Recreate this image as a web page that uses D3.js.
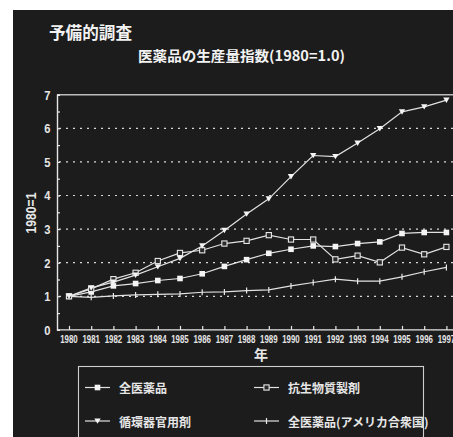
<!DOCTYPE html>
<html>
<head>
<meta charset="utf-8">
<script src="https://cdn.jsdelivr.net/npm/d3@7/dist/d3.min.js"></script>
<style>
  html, body { margin: 0; padding: 0; background: #ffffff; }
  svg { display: block; }
</style>
</head>
<body>
<script>
// Production index of pharmaceuticals, 1980 = 1.0
const years = [1980, 1981, 1982, 1983, 1984, 1985, 1986, 1987, 1988, 1989,
               1990, 1991, 1992, 1993, 1994, 1995, 1996, 1997];
const allDrugs      = [1.00, 1.13, 1.31, 1.38, 1.47, 1.53, 1.67, 1.89, 2.09, 2.28, 2.40, 2.50, 2.48, 2.57, 2.62, 2.87, 2.90, 2.90];
const antibiotics   = [1.00, 1.22, 1.51, 1.70, 2.05, 2.29, 2.37, 2.57, 2.65, 2.82, 2.69, 2.69, 2.10, 2.21, 2.01, 2.45, 2.25, 2.47];
const circulatory   = [1.00, 1.25, 1.42, 1.63, 1.88, 2.13, 2.50, 2.96, 3.45, 3.90, 4.56, 5.19, 5.16, 5.56, 5.99, 6.49, 6.64, 6.84];
const allDrugsUSA   = [1.00, 0.97, 1.01, 1.04, 1.06, 1.07, 1.12, 1.13, 1.17, 1.19, 1.31, 1.41, 1.51, 1.45, 1.45, 1.58, 1.73, 1.86];
const yTicks = [0, 1, 2, 3, 4, 5, 6, 7];
const seriesNames = ["全医薬品", "抗生物質製剤", "循環器官用剤", "全医薬品(アメリカ合衆国)"];

const W = 453, H = 437;
const ink = "#e6e6e6";
const bg = "#1c1c1c";
const cjk = "'Noto Sans CJK JP', 'Noto Sans CJK SC', sans-serif";
const num = "'Liberation Sans', Arial, sans-serif";

const svg = d3.select("body").append("svg").attr("width", W).attr("height", H);
svg.append("rect").attr("x", 0).attr("y", 0).attr("width", W).attr("height", H).attr("fill", "#ffffff");
svg.append("rect").attr("x", 13).attr("y", 10).attr("width", W - 13).attr("height", H - 10).attr("fill", bg);

const x = d3.scaleLinear().domain([1980, 1997]).range([69, 446.4]);
const y = d3.scaleLinear().domain([0, 7]).range([329.9, 94.7]);
const axisX0 = 57;

// titles
svg.append("text").attr("x", 49).attr("y", 39)
  .attr("font-family", cjk).attr("font-weight", 700).attr("font-size", 17)
  .attr("fill", "#f2f2f2").attr("textLength", 83).attr("lengthAdjust", "spacingAndGlyphs")
  .text("予備的調査");
svg.append("text").attr("x", 138).attr("y", 60.5)
  .attr("font-family", cjk).attr("font-weight", 700).attr("font-size", 14)
  .attr("fill", "#f2f2f2").attr("textLength", 207).attr("lengthAdjust", "spacingAndGlyphs")
  .text("医薬品の生産量指数(1980=1.0)");

// dotted gridlines
const grid = svg.append("g");
grid.selectAll("line").data(yTicks.filter(d => d > 0 && d < 7)).join("line")
  .attr("x1", axisX0 + 2).attr("x2", W)
  .attr("y1", d => y(d)).attr("y2", d => y(d))
  .attr("stroke", "#d8d8d8").attr("stroke-width", 1.2)
  .attr("stroke-dasharray", "2,5");

// top frame line
svg.append("line").attr("x1", axisX0).attr("x2", W)
  .attr("y1", y(7)).attr("y2", y(7))
  .attr("stroke", "#bdbdbd").attr("stroke-width", 1.6);

// y axis with inward half-unit ticks
const yAxis = d3.axisRight(y).tickValues(d3.range(0, 7.01, 0.5)).tickSize(3).tickFormat("");
const gy = svg.append("g").attr("transform", `translate(${axisX0},0)`).call(yAxis);
gy.select(".domain").attr("stroke", ink).attr("stroke-width", 1.4);
gy.selectAll(".tick line").attr("stroke", ink).attr("stroke-width", 1.2);

svg.append("g").selectAll("text").data(yTicks).join("text")
  .attr("x", 50.5).attr("y", d => y(d) + 4.8)
  .attr("text-anchor", "end")
  .attr("font-family", num).attr("font-weight", 700).attr("font-size", 13)
  .attr("textLength", 6.2).attr("lengthAdjust", "spacingAndGlyphs")
  .attr("fill", ink).text(d => d);

// x axis with inward ticks
const xAxis = d3.axisTop(x).tickValues(years).tickSize(4).tickFormat("");
const gx = svg.append("g").attr("transform", `translate(0,${y(0)})`).call(xAxis);
gx.select(".domain").remove();
gx.selectAll(".tick line").attr("stroke", ink).attr("stroke-width", 1.2);
svg.append("line").attr("x1", axisX0).attr("x2", W)
  .attr("y1", y(0)).attr("y2", y(0))
  .attr("stroke", ink).attr("stroke-width", 1.4);

svg.append("g").selectAll("text").data(years).join("text")
  .attr("x", d => x(d)).attr("y", 342.5)
  .attr("text-anchor", "middle")
  .attr("font-family", num).attr("font-weight", 700).attr("font-size", 10)
  .attr("textLength", 17.5).attr("lengthAdjust", "spacingAndGlyphs")
  .attr("fill", ink).text(d => d);

// axis titles
svg.append("text").attr("transform", "translate(36,213) rotate(-90)")
  .attr("text-anchor", "middle")
  .attr("font-family", num).attr("font-weight", 700).attr("font-size", 14)
  .attr("textLength", 41).attr("lengthAdjust", "spacingAndGlyphs")
  .attr("fill", ink).text("1980=1");
svg.append("text").attr("x", 261).attr("y", 360)
  .attr("text-anchor", "middle")
  .attr("font-family", cjk).attr("font-weight", 700).attr("font-size", 14)
  .attr("fill", ink).text("年");

// marker drawing
function marker(g, type, cx, cy) {
  if (type === "filled") {
    g.append("rect").attr("x", cx - 2.8).attr("y", cy - 2.8).attr("width", 5.6).attr("height", 5.6)
      .attr("fill", "#f4f4f4");
  } else if (type === "open") {
    g.append("rect").attr("x", cx - 2.6).attr("y", cy - 2.6).attr("width", 5.2).attr("height", 5.2)
      .attr("fill", "#2a2a2a").attr("stroke", "#e8e8e8").attr("stroke-width", 1.1);
  } else if (type === "tri") {
    g.append("path").attr("d", `M${cx - 3.2},${cy - 2.6}L${cx + 3.2},${cy - 2.6}L${cx},${cy + 2.8}Z`)
      .attr("fill", "#f4f4f4");
  } else if (type === "plus") {
    g.append("line").attr("x1", cx).attr("x2", cx).attr("y1", cy - 3).attr("y2", cy + 3)
      .attr("stroke", "#e8e8e8").attr("stroke-width", 1.2);
  }
}

const series = [
  { values: allDrugsUSA, type: "plus" },
  { values: allDrugs, type: "filled" },
  { values: antibiotics, type: "open" },
  { values: circulatory, type: "tri" }
];
const line = d3.line().x((d, i) => x(years[i])).y(d => y(d));
const plot = svg.append("g");
series.forEach(s => {
  plot.append("path").datum(s.values).attr("d", line)
    .attr("fill", "none").attr("stroke", "#e2e2e2").attr("stroke-width", 1.2);
});
series.forEach(s => {
  const g = plot.append("g");
  s.values.forEach((v, i) => marker(g, s.type, x(years[i]), y(v)));
});

// legend
const lg = svg.append("g");
lg.append("rect").attr("x", 78.5).attr("y", 366.5).attr("width", 345).attr("height", 90)
  .attr("fill", "none").attr("stroke", "#cfcfcf").attr("stroke-width", 1.1);
const legendItems = [
  { name: seriesNames[0], type: "filled", lx: 85, ly: 387.5 },
  { name: seriesNames[1], type: "open",   lx: 254, ly: 387.5 },
  { name: seriesNames[2], type: "tri",    lx: 85, ly: 421 },
  { name: seriesNames[3], type: "plus",   lx: 254, ly: 421 }
];
legendItems.forEach(it => {
  lg.append("line").attr("x1", it.lx).attr("x2", it.lx + 25)
    .attr("y1", it.ly).attr("y2", it.ly)
    .attr("stroke", "#e2e2e2").attr("stroke-width", 1.2);
  const g = lg.append("g");
  marker(g, it.type, it.lx + 12.5, it.ly);
  lg.append("text").attr("x", it.lx + 34).attr("y", it.ly + 5.5)
    .attr("font-family", cjk).attr("font-weight", 700).attr("font-size", 12)
    .attr("fill", ink).text(it.name);
});
</script>
</body>
</html>
